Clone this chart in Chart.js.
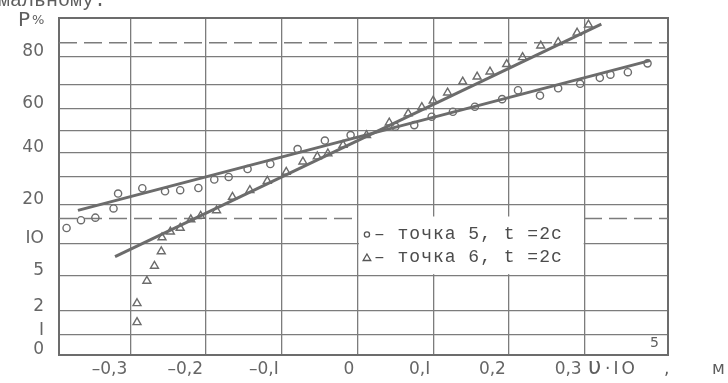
<!DOCTYPE html>
<html>
<head>
<meta charset="utf-8">
<script src="https://cdn.jsdelivr.net/npm/chart.js@4.4.1/dist/chart.umd.min.js"></script>
<style>
    html, body { margin: 0; padding: 0; background: #ffffff; }
    #wrap { position: relative; width: 728px; height: 383px; }
</style>
</head>
<body>
<div id="wrap"><canvas id="chart" width="728" height="383"></canvas></div>
<script>
// точка 5 (circles): v*10^5, m  /  P, %
var point5V = [-0.384, -0.365, -0.346, -0.322, -0.316, -0.284, -0.254, -0.234, -0.210, -0.189,
    -0.170, -0.145, -0.115, -0.079, -0.043, -0.009, 0.050, 0.075, 0.098, 0.126,
    0.155, 0.191, 0.212, 0.241, 0.265, 0.294, 0.320, 0.334, 0.357, 0.383];
var point5P = [13.4, 15.4, 16.1, 18.8, 23.7, 25.6, 24.5, 24.9, 25.7, 28.9,
    29.9, 33.1, 35.2, 41.7, 45.5, 48.0, 51.8, 52.5, 56.3, 58.5,
    60.7, 64.0, 67.7, 65.5, 68.5, 70.3, 72.6, 73.8, 74.7, 77.8];

// точка 6 (triangles)
var point6V = [-0.291, -0.291, -0.278, -0.268, -0.259, -0.258, -0.247, -0.234, -0.220, -0.207,
    -0.186, -0.165, -0.142, -0.119, -0.094, -0.072, -0.053, -0.039, -0.019, 0.012,
    0.042, 0.067, 0.085, 0.100, 0.119, 0.139, 0.158, 0.175, 0.197, 0.218,
    0.242, 0.265, 0.290, 0.305];
var point6P = [1.46, 2.47, 4.36, 6.18, 8.46, 11.2, 12.5, 13.4, 15.6, 16.6,
    18.2, 22.5, 24.9, 28.3, 31.9, 36.2, 38.4, 39.7, 43.5, 47.9,
    53.6, 57.7, 60.5, 63.3, 66.7, 71.1, 73.0, 74.9, 77.5, 79.8,
    83.3, 84.3, 86.7, 88.6];

// fitted straight lines (ends)
var fit5V = [-0.369, 0.386];
var fit5P = [18.2, 78.7];
var fit6V = [-0.320, 0.322];
var fit6P = [7.6, 88.7];

// dashed levels (+/- one sigma)
var sigmaP = [84.13, 15.87];

var xRange = [-0.394, 0.41];
var xTicks = [-0.3, -0.2, -0.1, 0, 0.1, 0.2, 0.3];
var xTickLabels = ['–0,3', '–0,2', '–0,I', '0', '0,I', '0,2', '0,3'];

var yRangeP = [0.534, 90];
var yTickP = [0.534, 1, 2, 5, 10, 20, 30, 40, 50, 60, 70, 80, 90];
var yTickLabels = ['0', 'I', '2', '5', 'IO', '20', '', '40', '', '60', '', '80', ''];

(function () {
    'use strict';

    var ink = '#6c6c6c';
    var gridInk = '#7c7c7c';
    var paper = '#ffffff';

    // inverse normal CDF (Acklam), used for the probability-paper axis
    function probit(p) {
        var a = [-39.69683028665376, 220.9460984245205, -275.9285104469687, 138.3577518672690, -30.66479806614716, 2.506628277459239];
        var b = [-54.47609879822406, 161.5858368580409, -155.6989798598866, 66.80131188771972, -13.28068155288572];
        var c = [-0.007784894002430293, -0.3223964580411365, -2.400758277161838, -2.549732539343734, 4.374664141464968, 2.938163982698783];
        var d = [0.007784695709041462, 0.3224671290700398, 2.445134137142996, 3.754408661907416];
        var q, r;
        if (p < 0.02425) {
            q = Math.sqrt(-2 * Math.log(p));
            return (((((c[0] * q + c[1]) * q + c[2]) * q + c[3]) * q + c[4]) * q + c[5]) /
                ((((d[0] * q + d[1]) * q + d[2]) * q + d[3]) * q + 1);
        }
        if (p > 1 - 0.02425) {
            q = Math.sqrt(-2 * Math.log(1 - p));
            return -(((((c[0] * q + c[1]) * q + c[2]) * q + c[3]) * q + c[4]) * q + c[5]) /
                ((((d[0] * q + d[1]) * q + d[2]) * q + d[3]) * q + 1);
        }
        q = p - 0.5;
        r = q * q;
        return (((((a[0] * r + a[1]) * r + a[2]) * r + a[3]) * r + a[4]) * r + a[5]) * q /
            (((((b[0] * r + b[1]) * r + b[2]) * r + b[3]) * r + b[4]) * r + 1);
    }

    function zOf(percent) {
        return probit(percent / 100);
    }

    function toPoints(xs, ps) {
        return xs.map(function (x, i) {
            return { x: x, y: zOf(ps[i]) };
        });
    }

    function levelLine(percent) {
        return [{ x: xRange[0], y: zOf(percent) }, { x: xRange[1], y: zOf(percent) }];
    }

    var framePlugin = {
        id: 'frame',
        beforeDraw: function (chart) {
            var ctx = chart.ctx;
            ctx.save();
            ctx.fillStyle = paper;
            ctx.fillRect(0, 0, chart.width, chart.height);
            ctx.restore();
        },
        beforeDatasetsDraw: function (chart) {
            var a = chart.chartArea;
            var ctx = chart.ctx;
            ctx.save();
            ctx.strokeStyle = ink;
            ctx.lineWidth = 2;
            ctx.strokeRect(a.left, a.top, a.right - a.left, a.bottom - a.top);
            ctx.restore();
        }
    };

    var legendPlugin = {
        id: 'boxLegend',
        afterDatasetsDraw: function (chart) {
            var ctx = chart.ctx;
            var xs = chart.scales.x;
            var ys = chart.scales.y;
            var left = xs.getPixelForValue(0) + 1.5;
            var right = xs.getPixelForValue(0.3) - 1;
            var top = ys.getPixelForValue(zOf(sigmaP[1])) - 2;
            var bottom = ys.getPixelForValue(zOf(5)) - 1;
            ctx.save();
            ctx.fillStyle = paper;
            ctx.fillRect(left, top, right - left, bottom - top);

            ctx.strokeStyle = '#555555';
            ctx.lineWidth = 1.3;
            var mx = left + 8;
            var row1 = top + 18;
            var row2 = top + 41;
            ctx.beginPath();
            ctx.arc(mx, row1, 2.6, 0, Math.PI * 2);
            ctx.stroke();
            ctx.beginPath();
            ctx.moveTo(mx, row2 - 3.5);
            ctx.lineTo(mx + 3.8, row2 + 3);
            ctx.lineTo(mx - 3.8, row2 + 3);
            ctx.closePath();
            ctx.stroke();

            ctx.fillStyle = '#4c4c4c';
            ctx.font = '18px "Liberation Mono"';
            ctx.letterSpacing = '1px';
            ctx.textBaseline = 'middle';
            ctx.textAlign = 'left';
            var room = right - (left + 15) - 2;
            ctx.fillText('– точка 5, t =2с', left + 15, row1, room);
            ctx.fillText('– точка 6, t =2с', left + 15, row2, room);
            ctx.restore();
        }
    };

    var titlePlugin = {
        id: 'titles',
        afterDraw: function (chart) {
            var ctx = chart.ctx;
            var a = chart.chartArea;
            ctx.save();
            ctx.fillStyle = '#5e5e5e';
            ctx.textBaseline = 'alphabetic';
            ctx.textAlign = 'left';

            // line of text above, cut by the crop
            ctx.font = '20px "Liberation Mono"';
            ctx.fillText('мальному.', -2, 6);

            // y axis name
            ctx.font = '20px "DejaVu Sans"';
            ctx.fillText('P', a.left - 41, 26);
            ctx.font = '13px "DejaVu Sans"';
            ctx.fillText('%', a.left - 27, 24);

            // x axis name, on the tick row
            var base = a.bottom + 19;
            ctx.font = '23px "DejaVu Sans"';
            ctx.fillText('υ', a.right - 80, base);
            ctx.font = '17px "DejaVu Sans"';
            ctx.letterSpacing = '3px';
            ctx.fillText('·IO', a.right - 63, base);
            ctx.letterSpacing = '0px';
            ctx.font = '14px "DejaVu Sans"';
            ctx.fillText('5', a.right - 18, a.bottom - 8);
            ctx.font = '17px "DejaVu Sans"';
            ctx.fillText(',', a.right - 4, base);
            ctx.fillText('м', a.right + 44, base);
            ctx.restore();
        }
    };

    var zMin = zOf(yRangeP[0]);
    var zMax = zOf(yRangeP[1]);

    new Chart(document.getElementById('chart'), {
        type: 'scatter',
        data: {
            datasets: [{
                label: 'точка 5',
                data: toPoints(point5V, point5P),
                pointStyle: 'circle',
                pointRadius: 3.6,
                pointBorderWidth: 1.4,
                pointBackgroundColor: 'rgba(255,255,255,0)',
                pointBorderColor: ink,
                showLine: false
            }, {
                label: 'точка 6',
                data: toPoints(point6V, point6P),
                pointStyle: 'triangle',
                pointRadius: 4.6,
                pointBorderWidth: 1.4,
                pointBackgroundColor: 'rgba(255,255,255,0)',
                pointBorderColor: ink,
                showLine: false
            }, {
                label: 'fit 5',
                data: toPoints(fit5V, fit5P),
                showLine: true,
                borderColor: ink,
                borderWidth: 3,
                pointRadius: 0
            }, {
                label: 'fit 6',
                data: toPoints(fit6V, fit6P),
                showLine: true,
                borderColor: ink,
                borderWidth: 3,
                pointRadius: 0
            }, {
                label: '84%',
                data: levelLine(sigmaP[0]),
                showLine: true,
                borderColor: gridInk,
                borderWidth: 1.3,
                borderDash: [18, 7],
                pointRadius: 0
            }, {
                label: '16%',
                data: levelLine(sigmaP[1]),
                showLine: true,
                borderColor: gridInk,
                borderWidth: 1.3,
                borderDash: [18, 7],
                pointRadius: 0
            }]
        },
        options: {
            responsive: false,
            animation: false,
            devicePixelRatio: 1,
            layout: { padding: { top: 18, right: 60, left: 0, bottom: 0 } },
            plugins: {
                legend: { display: false },
                tooltip: { enabled: false }
            },
            scales: {
                x: {
                    type: 'linear',
                    min: xRange[0],
                    max: xRange[1],
                    afterBuildTicks: function (scale) {
                        scale.ticks = xTicks.map(function (v) { return { value: v }; });
                    },
                    afterFit: function (scale) {
                        scale.height = 28;
                        scale.paddingLeft = 0;
                        scale.paddingRight = 0;
                    },
                    grid: { color: gridInk, lineWidth: 1.3, drawTicks: false },
                    border: { display: true, color: ink, width: 2 },
                    ticks: {
                        align: 'end',
                        labelOffset: -3,
                        maxRotation: 0,
                        autoSkip: false,
                        padding: 4,
                        color: '#666666',
                        font: { family: 'DejaVu Sans', size: 17 },
                        callback: function (value, index) {
                            return xTickLabels[index];
                        }
                    }
                },
                y: {
                    type: 'linear',
                    min: zMin,
                    max: zMax,
                    afterBuildTicks: function (scale) {
                        scale.ticks = yTickP.map(function (p) { return { value: zOf(p) }; });
                    },
                    afterFit: function (scale) {
                        scale.width = 59;
                        scale.paddingTop = 0;
                        scale.paddingBottom = 0;
                    },
                    grid: { color: gridInk, lineWidth: 1.3, drawTicks: false },
                    border: { display: true, color: ink, width: 2 },
                    ticks: {
                        autoSkip: false,
                        padding: 15,
                        labelOffset: -5,
                        color: '#666666',
                        font: { family: 'DejaVu Sans', size: 17 },
                        callback: function (value, index) {
                            return yTickLabels[index];
                        }
                    }
                }
            }
        },
        plugins: [framePlugin, legendPlugin, titlePlugin]
    });
})();
</script>
</body>
</html>
